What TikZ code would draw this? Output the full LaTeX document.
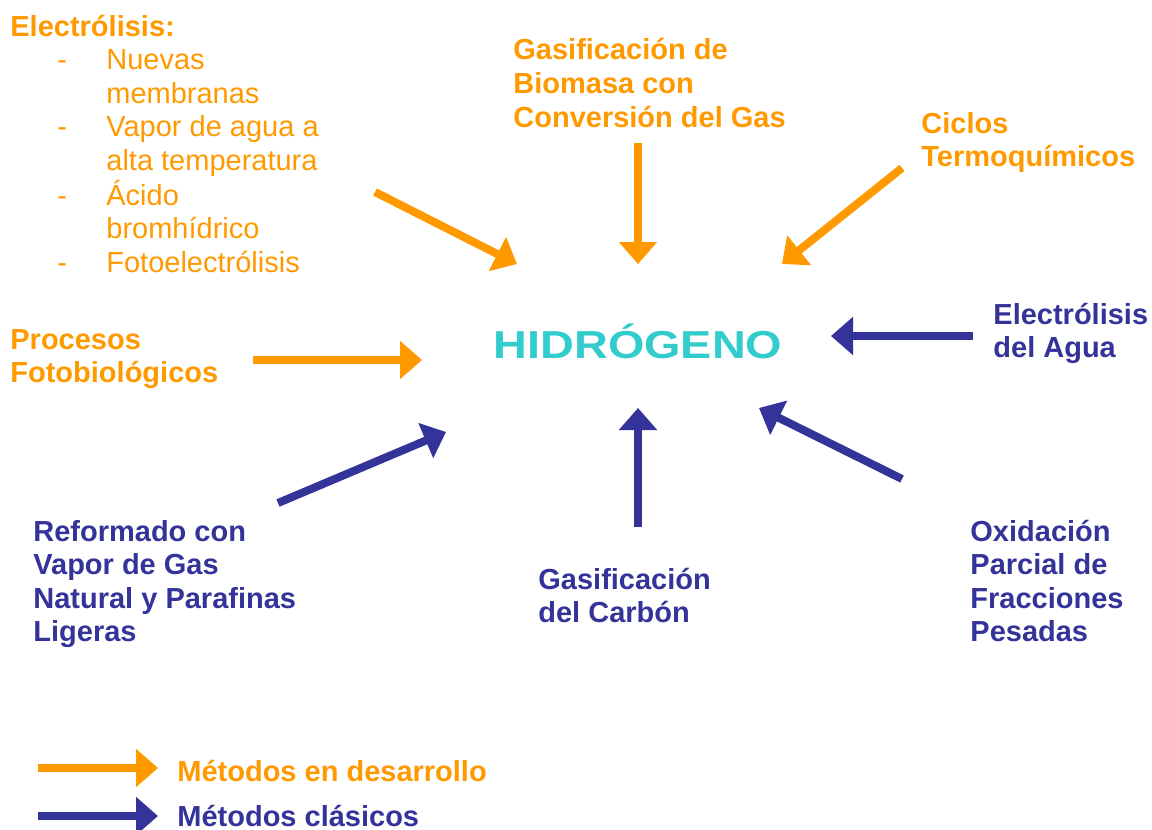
\documentclass[tikz,border=0pt]{standalone}
\usepackage{fontspec}
\setmainfont{Liberation Sans}
\usepackage{tikz}
\usetikzlibrary{arrows.meta}
\definecolor{devcolor}{HTML}{FF9900}
\definecolor{classcolor}{HTML}{333399}
\definecolor{hydcolor}{HTML}{33CCCC}
\newcommand{\labelstack}[1]{\begin{tabular}[t]{@{}l@{}}#1\end{tabular}}
\newcommand{\dashitem}[1]{\hspace*{23.5pt}\makebox[24.5pt][l]{-}#1}
\newcommand{\dashcont}[1]{\hspace*{48pt}#1}

\begin{document}
\begin{tikzpicture}[x=0.5pt, y=-0.5pt,
    every node/.style={inner sep=0pt, anchor=base west,
      font=\fontsize{14.5}{16.75}\selectfont},
    devlabel/.style={text=devcolor, font=\fontsize{14.5}{16.75}\selectfont\bfseries},
    classlabel/.style={text=classcolor, font=\fontsize{14.5}{16.75}\selectfont\bfseries},
    devarrow/.style={-{Triangle[length=11pt,width=18.5pt]}, line width=4pt, draw=devcolor, fill=devcolor},
    classarrow/.style={-{Triangle[length=11pt,width=18.5pt]}, line width=4pt, draw=classcolor, fill=classcolor}]
  \useasboundingbox (0,0) rectangle (1152,830);

  % centre
  \node[anchor=base, text=hydcolor, font=\fontsize{19.5}{22}\selectfont\bfseries]
    (hidrogeno) at (638,358) {\scalebox{1.2}[1]{HIDRÓGENO}};

  % methods in development
  \node[text=devcolor] (electrolisis) at (10,36) {\labelstack{%
      \textbf{Electrólisis:}\\
      \dashitem{Nuevas}\\
      \dashcont{membranas}\\
      \dashitem{Vapor de agua a}\\
      \dashcont{alta temperatura}\\
      \dashitem{Ácido}\\
      \dashcont{bromhídrico}\\
      \dashitem{Fotoelectrólisis}}};
  \node[devlabel] (biomasa) at (513,60)
    {\labelstack{Gasificación de\\Biomasa con\\Conversión del Gas}};
  \node[devlabel] (ciclos) at (921,133) {\labelstack{Ciclos\\Termoquímicos}};
  \node[devlabel] (procesos) at (10,349) {\labelstack{Procesos\\Fotobiológicos}};

  % classical methods
  \node[classlabel] (agua) at (993,324) {\labelstack{Electrólisis\\del Agua}};
  \node[classlabel] (reformado) at (33,541)
    {\labelstack{Reformado con\\Vapor de Gas\\Natural y Parafinas\\Ligeras}};
  \node[classlabel] (carbon) at (538,589) {\labelstack{Gasificación\\del Carbón}};
  \node[classlabel] (oxidacion) at (970,541)
    {\labelstack{Oxidación\\Parcial de\\Fracciones\\Pesadas}};

  % arrow ends
  \coordinate (elecS) at (375,192);   \coordinate (elecE) at (517,264);
  \coordinate (bioS) at (638,143);    \coordinate (bioE) at (638,264);
  \coordinate (cicS) at (902,168);    \coordinate (cicE) at (782,264);
  \coordinate (procS) at (253,360);   \coordinate (procE) at (422,360);
  \coordinate (aguaS) at (973,336);   \coordinate (aguaE) at (831,336);
  \coordinate (refS) at (278,503);    \coordinate (refE) at (446,432);
  \coordinate (carS) at (638,527);    \coordinate (carE) at (638,408);
  \coordinate (oxiS) at (902,479);    \coordinate (oxiE) at (759,408);

  \draw[devarrow] (elecS) -- (elecE);
  \draw[devarrow] (bioS) -- (bioE);
  \draw[devarrow] (cicS) -- (cicE);
  \draw[devarrow] (procS) -- (procE);
  \draw[classarrow] (aguaS) -- (aguaE);
  \draw[classarrow] (refS) -- (refE);
  \draw[classarrow] (carS) -- (carE);
  \draw[classarrow] (oxiS) -- (oxiE);

  % legend
  \coordinate (legdevS) at (38,768);    \coordinate (legdevE) at (158,768);
  \coordinate (legclassS) at (38,816);  \coordinate (legclassE) at (158,816);
  \draw[devarrow] (legdevS) -- (legdevE);
  \draw[classarrow] (legclassS) -- (legclassE);
  \node[devlabel] (legdev) at (177,781) {Métodos en desarrollo};
  \node[classlabel] (legclass) at (177,826) {Métodos clásicos};
\end{tikzpicture}
\end{document}
